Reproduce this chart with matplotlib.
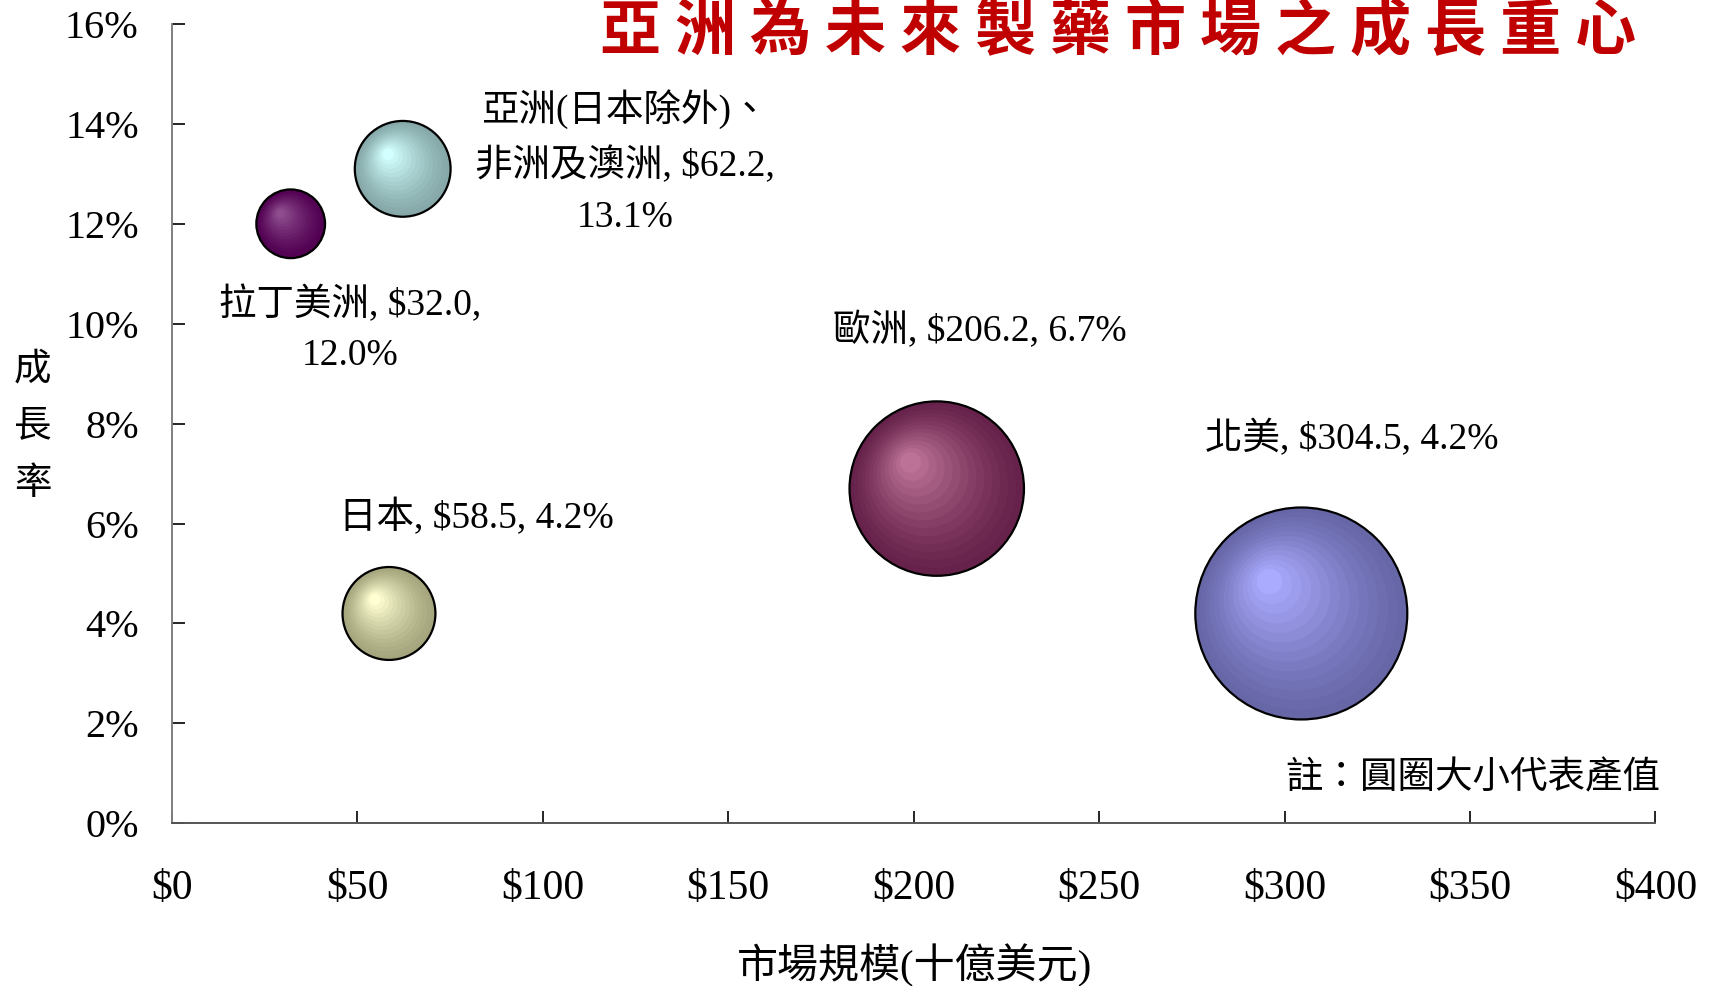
import numpy as np
import matplotlib
matplotlib.use("Agg")
import matplotlib.pyplot as plt
from matplotlib.colors import to_rgb
from matplotlib.transforms import ScaledTranslation

plt.rcParams['font.family'] = ['Liberation Serif', 'Noto Sans CJK TC']

# ---- data ----
regions = ['拉丁美洲', '亞洲(日本除外)、\n非洲及澳洲', '日本', '歐洲', '北美']
market = [32.0, 62.2, 58.5, 206.2, 304.5]        # 十億美元
growth = [12.0, 13.1, 4.2, 6.7, 4.2]             # %
x_ticks = [0, 50, 100, 150, 200, 250, 300, 350, 400]
y_ticks = [0, 2, 4, 6, 8, 10, 12, 14, 16]

# styles (outer colour, highlight colour) and label placement (offset points)
outer_cols = ['#520052', '#86A8A8', '#A6A67E', '#66224A', '#6767A8']
inner_cols = ['#8E4E8E', '#D2FFFF', '#FFFFD2', '#BC7296', '#AAAAFF']
label_off = [(43, -76), (160, 5), (63, 69), (31, 114), (36, 126)]
line_break = ['\n', '\n', ' ', ' ', ' ']
SIZE_K = 76.5   # marker area (pt^2) per 十億美元

fig = plt.figure(figsize=(17.15, 9.86), dpi=100)
ax = fig.add_axes([0.1003, 0.165, 0.865, 0.8107])

N = 14
for i in range(len(regions)):
    s = market[i] * SIZE_K
    r_pt = np.sqrt(s) / 2
    c0 = np.array(to_rgb(outer_cols[i]))
    c1 = np.array(to_rgb(inner_cols[i]))
    for k in range(N):
        t = k / (N - 1)
        f = 1 - 0.88 * t
        dx, dy = -0.3 * r_pt * t, 0.3 * r_pt * t
        tr = ax.transData + ScaledTranslation(dx / 72, dy / 72, fig.dpi_scale_trans)
        col = c0 + (c1 - c0) * t ** 1.3
        ax.scatter([market[i]], [growth[i]], s=s * f * f, color=col,
                   edgecolors='none', transform=tr, zorder=3 + i)
    ax.scatter([market[i]], [growth[i]], s=s, facecolors='none',
               edgecolors='black', linewidths=1.6, zorder=3 + i)
    txt = f"{regions[i]}, ${market[i]:.1f},{line_break[i]}{growth[i]:.1f}%"
    ax.annotate(txt, (market[i], growth[i]), xytext=label_off[i],
                textcoords='offset points', ha='center', va='center',
                fontsize=27, linespacing=1.6, zorder=10)

ax.set_xlim(0, 400)
ax.set_ylim(0, 16)
ax.set_xticks(x_ticks)
ax.set_xticklabels([f"${v}" for v in x_ticks])
ax.set_yticks(y_ticks)
ax.set_yticklabels([f"{v}%" for v in y_ticks])
ax.tick_params(direction='in', length=9, width=1.2)
ax.tick_params(axis='x', pad=33, labelsize=30)
ax.tick_params(axis='y', pad=24, labelsize=29)
for sp in ['top', 'right']:
    ax.spines[sp].set_visible(False)
ax.spines['left'].set_color('#808080')
ax.spines['bottom'].set_color('#555555')
ax.spines['left'].set_linewidth(1.4)
ax.spines['bottom'].set_linewidth(1.4)

fig.text(0.019, 0.567, '成\n長\n率', ha='center', va='center', fontsize=27,
         linespacing=1.85)
fig.text(0.533, 0.021, '市場規模(十億美元)', ha='center', va='center', fontsize=29.5)
fig.text(0.968, 0.21, '註：圓圈大小代表產值', ha='right', va='center', fontsize=27)

title = '亞洲為未來製藥市場之成長重心'
fig.text(0.652, 0.967, ' '.join(title), ha='center', va='center', fontsize=44,
         fontweight='bold', color='#C00000', family=['Noto Sans CJK TC'])

fig.savefig('out.png', dpi=100)
